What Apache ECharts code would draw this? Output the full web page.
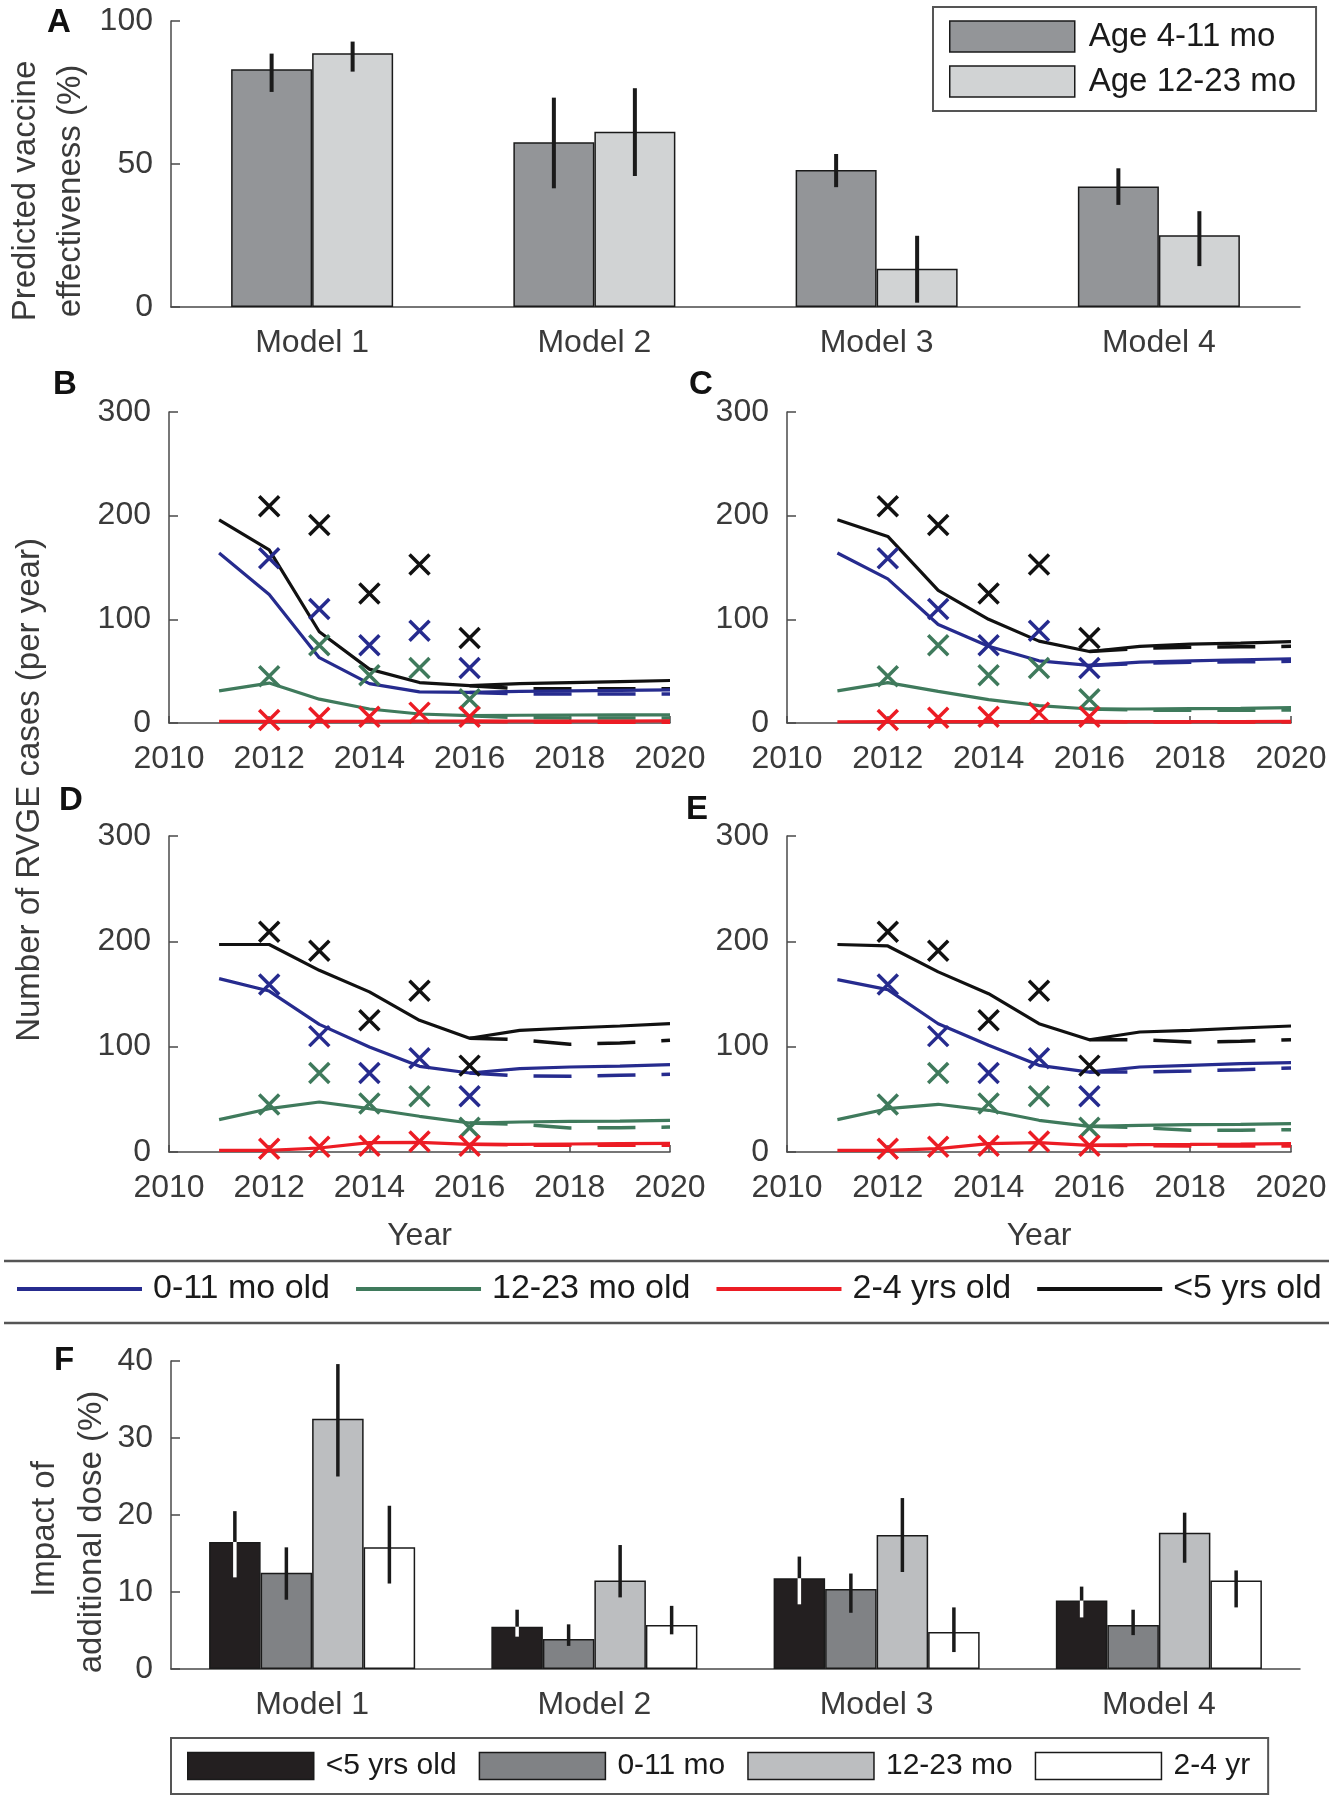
<!DOCTYPE html>
<html><head><meta charset="utf-8">
<script src="https://cdn.jsdelivr.net/npm/echarts@6.0.0/dist/echarts.min.js"></script>
<style>html,body{margin:0;padding:0;background:#fff}#chart{width:1334px;height:1800px}</style>
</head><body><div id="chart"></div>
<script>
const FONT = '"Liberation Sans", Arial, Helvetica, sans-serif';
const AXIS = '#4a4a4a';
const TICKTXT = '#3a3a3a';
const INK = '#1a1a1a';

// ---------- Panel A: predicted vaccine effectiveness ----------
const modelLabels = ['Model 1', 'Model 2', 'Model 3', 'Model 4'];
const veAge4to11 = [83.1, 57.6, 47.9, 42.1];
const veAge4to11Low = [75.2, 41.5, 41.9, 35.7];
const veAge4to11High = [88.6, 73.2, 53.5, 48.5];
const veAge12to23 = [88.7, 61.3, 13.4, 25.1];
const veAge12to23Low = [82.3, 45.8, 1.5, 14.3];
const veAge12to23High = [92.8, 76.5, 24.9, 33.5];
const yTicksA = [0, 50, 100];

// ---------- Panels B-E: RVGE cases per year ----------
const xTicksYears = [2010, 2012, 2014, 2016, 2018, 2020];
const yTicksCases = [0, 100, 200, 300];
const lineYears = [2011, 2012, 2013, 2014, 2015, 2016, 2017, 2018, 2019, 2020];
const dashYears = [2016, 2017, 2018, 2019, 2020];
const obsYears = [2012, 2013, 2014, 2015, 2016];
const obsUnder5 = [209, 191, 125, 153, 82];
const obs0to11 = [159, 110, 75, 89, 53];
const obs12to23 = [45, 75, 46, 53, 23];
const obs2to4 = [3, 5, 6, 10, 6];

// Panel B (Model 1)
const bUnder5 = [196, 167, 88, 52, 39, 36, 38, 39, 40, 41];
const bUnder5Dash = [36, 33, 33, 33, 33];
const b0to11 = [164, 124, 63, 38, 30, 29.5, 30.5, 31, 31.5, 32];
const b0to11Dash = [29.5, 28, 28, 28, 28];
const b12to23 = [31, 38.5, 23, 13.5, 8.7, 7.1, 7.5, 7.7, 7.8, 7.8];
const b12to23Dash = [7.1, 5, 4.8, 4.8, 4.8];
const b2to4 = [1.5, 1.5, 1.6, 1.7, 1.8, 1.8, 1.8, 1.9, 1.9, 2];
const b2to4Dash = [1.8, 1, 0.8, 0.7, 0.7];
// Panel C (Model 2)
const cUnder5 = [196, 180, 128, 100, 79, 69, 74, 76, 77, 78.5];
const cUnder5Dash = [69, 72, 73, 73.5, 74];
const c0to11 = [164, 139, 95, 74, 60, 55.5, 58.7, 60, 61, 62];
const c0to11Dash = [55.5, 57.5, 58.5, 59, 59.5];
const c12to23 = [31, 39, 30.5, 22.5, 16.7, 13.5, 13.5, 13.8, 14.1, 14.8];
const c12to23Dash = [13.5, 12.5, 12.2, 12.2, 12.5];
const c2to4 = [1.2, 1.3, 1.3, 1.3, 1.4, 1.4, 1.4, 1.4, 1.4, 1.5];
const c2to4Dash = [1.4, 1, 0.9, 0.9, 0.9];
// Panel D (Model 3)
const dUnder5 = [197, 197, 172.5, 152, 125, 108, 115.5, 117.7, 119.6, 121.8];
const dUnder5Dash = [108, 106.6, 102.2, 103.5, 106];
const d0to11 = [164.6, 152.8, 121.2, 99.7, 81.3, 75, 79.1, 80.7, 81.6, 82.9];
const d0to11Dash = [75, 72.2, 71.8, 72.8, 73.7];
const d12to23 = [30.7, 41.1, 47.5, 41.1, 33.9, 27.5, 28.5, 29.1, 29.4, 30.1];
const d12to23Dash = [27.5, 26.3, 22.8, 23.1, 23.7];
const d2to4 = [1.6, 1.6, 3.8, 8.9, 9.2, 7.3, 7.3, 7.6, 7.9, 8.2];
const d2to4Dash = [7.3, 6.6, 6.3, 6.3, 6.3];
// Panel E (Model 4)
const eUnder5 = [197, 195.6, 171, 150.3, 121.8, 106.6, 113.9, 115.5, 117.7, 119.6];
const eUnder5Dash = [106.6, 106.6, 104.4, 105.1, 106.6];
const e0to11 = [163.6, 154.1, 121.8, 101.3, 82.3, 75.9, 80.7, 82.3, 83.9, 84.8];
const e0to11Dash = [75.9, 75.9, 76.9, 78.2, 79.7];
const e12to23 = [30.7, 41.1, 45.3, 39.6, 30.1, 24.4, 25.3, 25.9, 26.3, 26.9];
const e12to23Dash = [24.4, 23.1, 20.6, 20.6, 21.2];
const e2to4 = [1.6, 1.6, 3.2, 7.9, 8.9, 6.3, 7, 7.2, 7.5, 7.9];
const e2to4Dash = [6.3, 6, 5.7, 5.7, 5.7];

// ---------- Panel F: impact of additional dose ----------
const yTicksF = [0, 10, 20, 30, 40];
const impUnder5 = [16.5, 5.5, 11.8, 8.9];
const impUnder5Low = [11.9, 4.2, 8.4, 6.7];
const impUnder5High = [20.5, 7.7, 14.6, 10.7];
const imp0to11 = [12.5, 3.9, 10.4, 5.7];
const imp0to11Low = [9.0, 3.0, 7.3, 4.4];
const imp0to11High = [15.8, 5.8, 12.4, 7.7];
const imp12to23 = [32.5, 11.5, 17.4, 17.7];
const imp12to23Low = [25.0, 9.3, 12.6, 13.8];
const imp12to23High = [39.6, 16.1, 22.2, 20.3];
const imp2to4 = [15.8, 5.7, 4.8, 11.5];
const imp2to4Low = [11.1, 4.5, 2.2, 8.0];
const imp2to4High = [21.2, 8.2, 8.0, 12.8];

const COL_INF = '#262b8e', COL_TOD = '#3f7a5c', COL_PRE = '#ec1c24', COL_U5 = '#111111';

// ---------- helpers ----------
function rng(t) { return { min: t[0], max: t[t.length - 1], interval: t[1] - t[0] }; }
function valueYAxis(gi, ticks) {
  return Object.assign({
    type: 'value', gridIndex: gi,
    axisLine: { show: true, lineStyle: { color: AXIS, width: 1.5 } },
    axisTick: { show: true, inside: true, length: 9, lineStyle: { color: AXIS, width: 1.5 } },
    axisLabel: { color: TICKTXT, fontSize: 32, margin: 18, fontFamily: FONT, formatter: v => String(v) },
    splitLine: { show: false }
  }, rng(ticks));
}
function catXAxis(gi) {
  return {
    type: 'category', gridIndex: gi, data: modelLabels,
    axisLine: { show: true, lineStyle: { color: AXIS, width: 1.5 } },
    axisTick: { show: false },
    axisLabel: { color: TICKTXT, fontSize: 32, margin: 20, fontFamily: FONT },
    splitLine: { show: false }
  };
}
function yearXAxis(gi, withName) {
  const a = Object.assign({
    type: 'value', gridIndex: gi,
    axisLine: { show: true, lineStyle: { color: AXIS, width: 1.5 } },
    axisTick: { show: true, inside: true, length: 7, lineStyle: { color: AXIS, width: 1.5 } },
    axisLabel: { color: TICKTXT, fontSize: 32, margin: 20, fontFamily: FONT, formatter: v => String(v) },
    splitLine: { show: false }
  }, rng(xTicksYears));
  if (withName) {
    a.name = 'Year'; a.nameLocation = 'middle'; a.nameGap = 68;
    a.nameTextStyle = { color: TICKTXT, fontSize: 32, fontFamily: FONT };
  }
  return a;
}
function lineS(name, gi, xs, ys, color, dashed) {
  return {
    type: 'line', name: name, xAxisIndex: gi, yAxisIndex: gi,
    data: xs.map((x, i) => [x, ys[i]]),
    symbol: 'none', showSymbol: false, silent: true, z: dashed ? 2 : 3,
    lineStyle: { color: color, width: dashed ? 3.5 : 3.2, type: dashed ? [38, 26] : 'solid', opacity: 1 },
    itemStyle: { color: color }
  };
}
const XMARK = 'path://M0,0L20,20M20,0L0,20';
function obsS(gi, ys, color) {
  return {
    type: 'scatter', name: 'obs' + gi + color, xAxisIndex: gi, yAxisIndex: gi,
    data: obsYears.map((x, i) => [x, ys[i]]),
    symbol: XMARK, symbolSize: 20, silent: true, z: 5,
    itemStyle: { color: 'rgba(0,0,0,0)', borderColor: color, borderWidth: 3.5, opacity: 1 }
  };
}
function panelSeries(gi, u5, u5d, inf, infd, tod, todd, pre, pred, legendNames) {
  const n = legendNames ? ['L:0-11 mo old', 'L:12-23 mo old', 'L:2-4 yrs old', 'L:<5 yrs old']
                        : ['p' + gi + 'inf', 'p' + gi + 'tod', 'p' + gi + 'pre', 'p' + gi + 'u5'];
  return [
    lineS('p' + gi + 'todd', gi, dashYears, todd, COL_TOD, true),
    lineS('p' + gi + 'pred', gi, dashYears, pred, COL_PRE, true),
    lineS('p' + gi + 'infd', gi, dashYears, infd, COL_INF, true),
    lineS('p' + gi + 'u5d', gi, dashYears, u5d, COL_U5, true),
    lineS(n[1], gi, lineYears, tod, COL_TOD, false),
    lineS(n[2], gi, lineYears, pre, COL_PRE, false),
    lineS(n[0], gi, lineYears, inf, COL_INF, false),
    lineS(n[3], gi, lineYears, u5, COL_U5, false),
    obsS(gi, obs12to23, COL_TOD),
    obsS(gi, obs2to4, COL_PRE),
    obsS(gi, obs0to11, COL_INF),
    obsS(gi, obsUnder5, COL_U5)
  ];
}
function barS(name, gi, vals, color, width) {
  return {
    type: 'bar', name: name, xAxisIndex: gi, yAxisIndex: gi, data: vals,
    barWidth: width, barGap: '0%', silent: true,
    itemStyle: { color: color, borderColor: INK, borderWidth: 1.5 }
  };
}
function errS(gi, vals, lo, hi, k, n, frac, lw, insideColor) {
  return {
    type: 'custom', name: 'err' + gi + '_' + k, xAxisIndex: gi, yAxisIndex: gi, z: 4, silent: true,
    data: vals.map((v, i) => [i, lo[i], hi[i], v]),
    encode: { x: 0, y: [1, 2] },
    renderItem: function (params, api) {
      const band = api.size([1, 0])[0];
      const dx = (k - (n - 1) / 2) * band * frac;
      const pLo = api.coord([api.value(0), api.value(1)]);
      const pHi = api.coord([api.value(0), api.value(2)]);
      const pV = api.coord([api.value(0), api.value(3)]);
      const x = pLo[0] + dx;
      const ch = [];
      if (insideColor) {
        ch.push({ type: 'line', shape: { x1: x, y1: pLo[1], x2: x, y2: Math.max(pV[1], pHi[1]) }, style: { stroke: insideColor, lineWidth: lw } });
        ch.push({ type: 'line', shape: { x1: x, y1: pV[1], x2: x, y2: pHi[1] }, style: { stroke: INK, lineWidth: lw } });
      } else {
        ch.push({ type: 'line', shape: { x1: x, y1: pLo[1], x2: x, y2: pHi[1] }, style: { stroke: INK, lineWidth: lw } });
      }
      return { type: 'group', children: ch };
    }
  };
}
function txt(t, x, y, size, opts) {
  opts = opts || {};
  return {
    type: 'text', x: x, y: y, rotation: opts.rot || 0, silent: true,
    style: {
      text: t, fill: opts.fill || TICKTXT,
      font: (opts.bold ? 'bold ' : '') + size + 'px ' + FONT,
      align: opts.align || 'center', verticalAlign: opts.va || 'middle'
    }
  };
}

const FRAC_A = 0.287, FRAC_F = 0.1825;
const series = [].concat(
  [barS('Age 4-11 mo', 0, veAge4to11, '#939598', '28.7%'),
   barS('Age 12-23 mo', 0, veAge12to23, '#d1d3d4', '28.7%'),
   errS(0, veAge4to11, veAge4to11Low, veAge4to11High, 0, 2, FRAC_A, 4, null),
   errS(0, veAge12to23, veAge12to23Low, veAge12to23High, 1, 2, FRAC_A, 4, null)],
  panelSeries(1, bUnder5, bUnder5Dash, b0to11, b0to11Dash, b12to23, b12to23Dash, b2to4, b2to4Dash, true),
  panelSeries(2, cUnder5, cUnder5Dash, c0to11, c0to11Dash, c12to23, c12to23Dash, c2to4, c2to4Dash, false),
  panelSeries(3, dUnder5, dUnder5Dash, d0to11, d0to11Dash, d12to23, d12to23Dash, d2to4, d2to4Dash, false),
  panelSeries(4, eUnder5, eUnder5Dash, e0to11, e0to11Dash, e12to23, e12to23Dash, e2to4, e2to4Dash, false),
  [barS('<5 yrs old', 5, impUnder5, '#231f20', '18.25%'),
   barS('0-11 mo', 5, imp0to11, '#808285', '18.25%'),
   barS('12-23 mo', 5, imp12to23, '#bcbec0', '18.25%'),
   barS('2-4 yr', 5, imp2to4, '#ffffff', '18.25%'),
   errS(5, impUnder5, impUnder5Low, impUnder5High, 0, 4, FRAC_F, 3.5, '#ffffff'),
   errS(5, imp0to11, imp0to11Low, imp0to11High, 1, 4, FRAC_F, 3.5, null),
   errS(5, imp12to23, imp12to23Low, imp12to23High, 2, 4, FRAC_F, 3.5, null),
   errS(5, imp2to4, imp2to4Low, imp2to4High, 3, 4, FRAC_F, 3.5, null)]
);

const option = {
  animation: false,
  backgroundColor: '#ffffff',
  textStyle: { fontFamily: FONT },
  grid: [
    { left: 171, top: 21, width: 1129, height: 286 },
    { left: 169, top: 412, width: 501, height: 311 },
    { left: 787, top: 412, width: 504, height: 311 },
    { left: 169, top: 836, width: 501, height: 316 },
    { left: 787, top: 836, width: 504, height: 316 },
    { left: 171, top: 1361, width: 1129, height: 308 }
  ],
  xAxis: [catXAxis(0), yearXAxis(1, false), yearXAxis(2, false), yearXAxis(3, true), yearXAxis(4, true), catXAxis(5)],
  yAxis: [valueYAxis(0, yTicksA), valueYAxis(1, yTicksCases), valueYAxis(2, yTicksCases),
          valueYAxis(3, yTicksCases), valueYAxis(4, yTicksCases), valueYAxis(5, yTicksF)],
  legend: [
    { orient: 'vertical', left: 933, top: 7, padding: [13, 20, 13, 16], itemWidth: 125, itemHeight: 31, itemGap: 12,
      icon: 'rect', borderColor: '#555', borderWidth: 2, selectedMode: false,
      data: ['Age 4-11 mo', 'Age 12-23 mo'],
      textStyle: { fontSize: 33, color: INK, fontFamily: FONT, padding: [0, 0, 0, 9] },
      itemStyle: { borderColor: INK, borderWidth: 1.5 } },
    { orient: 'horizontal', left: 17, top: 1272, padding: 0, itemWidth: 125, itemHeight: 4, itemGap: 26,
      icon: 'rect', selectedMode: false,
      data: ['L:0-11 mo old', 'L:12-23 mo old', 'L:2-4 yrs old', 'L:<5 yrs old'],
      formatter: function (n) { return n.slice(2); },
      textStyle: { fontSize: 34, color: INK, fontFamily: FONT, padding: [0, 0, 0, 6] },
      itemStyle: { borderWidth: 0 } },
    { orient: 'horizontal', left: 171, top: 1738, padding: [13, 18, 13, 16], itemWidth: 126, itemHeight: 27, itemGap: 22,
      icon: 'rect', borderColor: '#555', borderWidth: 2, selectedMode: false,
      data: ['<5 yrs old', '0-11 mo', '12-23 mo', '2-4 yr'],
      textStyle: { fontSize: 30, color: INK, fontFamily: FONT, padding: [0, 0, 0, 7] },
      itemStyle: { borderColor: INK, borderWidth: 1.5 } }
  ],
  graphic: [
    txt('A', 47, 6, 33, { bold: true, fill: '#111', align: 'left', va: 'top' }),
    txt('B', 53, 368, 33, { bold: true, fill: '#111', align: 'left', va: 'top' }),
    txt('C', 689, 368, 33, { bold: true, fill: '#111', align: 'left', va: 'top' }),
    txt('D', 59, 784, 33, { bold: true, fill: '#111', align: 'left', va: 'top' }),
    txt('E', 686, 793, 33, { bold: true, fill: '#111', align: 'left', va: 'top' }),
    txt('F', 54, 1344, 33, { bold: true, fill: '#111', align: 'left', va: 'top' }),
    txt('Predicted vaccine', 26, 191, 33, { rot: Math.PI / 2 }),
    txt('effectiveness (%)', 71, 191, 33, { rot: Math.PI / 2 }),
    txt('Number of RVGE cases (per year)', 30, 790, 33, { rot: Math.PI / 2 }),
    txt('Impact of', 45, 1529, 33, { rot: Math.PI / 2 }),
    txt('additional dose (%)', 92, 1532, 33, { rot: Math.PI / 2 }),
    { type: 'line', silent: true, shape: { x1: 4, y1: 1261, x2: 1329, y2: 1261 }, style: { stroke: '#555', lineWidth: 2.5 } },
    { type: 'line', silent: true, shape: { x1: 4, y1: 1323, x2: 1329, y2: 1323 }, style: { stroke: '#555', lineWidth: 2.5 } }
  ],
  series: series
};

const chart = echarts.init(document.getElementById('chart'), null, { renderer: 'canvas' });
chart.setOption(option);
</script></body></html>
